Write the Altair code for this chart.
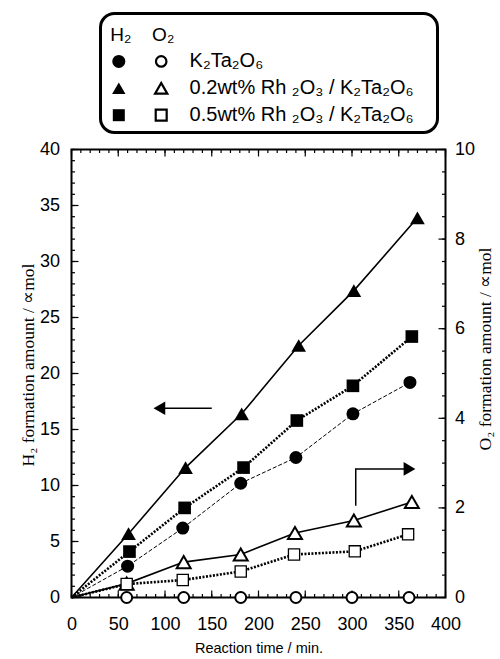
import altair as alt
import pandas as pd

# ---------------- data ----------------
series_labels = ["K₂Ta₂O₆", "0.2wt% Rh ₂O₃ / K₂Ta₂O₆", "0.5wt% Rh ₂O₃ / K₂Ta₂O₆"]
gas_labels = ["H₂", "O₂"]

# H2 formation (left axis, µmol)
h2_t_k = [60, 119, 181, 240, 301, 362]
h2_v_k = [2.8, 6.2, 10.2, 12.5, 16.4, 19.2]
h2_t_02 = [61, 122, 182, 243, 302, 370]
h2_v_02 = [5.7, 11.6, 16.4, 22.5, 27.4, 33.9]
h2_t_05 = [62, 121, 184, 241, 301, 364]
h2_v_05 = [4.1, 8.0, 11.6, 15.8, 18.9, 23.3]

# O2 formation (right axis, µmol)
o2_t_k = [59, 120, 181, 240, 300, 361]
o2_v_k = [0, 0, 0, 0, 0, 0]
o2_t_02 = [59, 120, 181, 239, 302, 364]
o2_v_02 = [0.31, 0.79, 0.96, 1.44, 1.72, 2.13]
o2_t_05 = [59, 119, 181, 238, 303, 360]
o2_v_05 = [0.30, 0.39, 0.58, 0.96, 1.03, 1.41]

# tick values
x_major = [0, 50, 100, 150, 200, 250, 300, 350, 400]
x_minor = list(range(0, 401, 10))
y_h2_major = [0, 5, 10, 15, 20, 25, 30, 35, 40]
y_h2_minor = list(range(0, 41))
y_o2_major = [0, 2, 4, 6, 8, 10]
y_o2_minor = [i * 0.5 for i in range(21)]

# annotation arrows (data coordinates)
h2_arrow_t = [150, 94]
h2_arrow_v = [16.9, 16.9]
o2_arrow_t = [304, 304, 358]
o2_arrow_v = [2.05, 2.87, 2.87]
o2_head_t = [361.5]
o2_head_v = [2.87]

# ---------------- styles ----------------
SANS = "Liberation Sans"
SERIF = "Liberation Serif"
BLACK = "black"
shapes = ["circle", "triangle-up", "square"]
filled_sizes = [169, 215, 160]
open_sizes = [120, 195, 125]
open_widths = [2, 2, 1.3]
line_styles = [
    dict(strokeWidth=1, strokeDash=[4, 2]),
    dict(strokeWidth=1.6),
    dict(strokeWidth=2.6, strokeDash=[2, 1.5]),
]

h2_t = [h2_t_k, h2_t_02, h2_t_05]
h2_v = [h2_v_k, h2_v_02, h2_v_05]
o2_t = [o2_t_k, o2_t_02, o2_t_05]
o2_v = [o2_v_k, o2_v_02, o2_v_05]

XS = alt.Scale(domain=[0, 400], nice=False)
YH2 = alt.Scale(domain=[0, 40], nice=False)
YO2 = alt.Scale(domain=[0, 10], nice=False)

x_axis = alt.Axis(values=x_major, ticks=False, domain=False, grid=False, labelFont=SANS,
                  labelFontSize=18, labelColor=BLACK, labelPadding=18, labelFlush=False,
                  labelOverlap=False, title="Reaction time / min.", titleFont=SANS,
                  titleFontSize=14.5, titleFontWeight="normal", titleColor=BLACK, titleY=51,
                  titleBaseline="middle")
y_left_axis = alt.Axis(orient="left", values=y_h2_major, ticks=False, domain=False, grid=False,
                       labelFont=SANS, labelFontSize=18, labelColor=BLACK, labelPadding=12,
                       labelFlush=False, labelOverlap=False,
                       title="H₂ formation amount / ∝mol", titleFont=SERIF, titleFontSize=17.5,
                       titleFontWeight="normal", titleColor=BLACK, titleAngle=270, titleX=-43,
                       titleY=215, titleAlign="center", titleBaseline="middle")
y_right_axis = alt.Axis(orient="right", values=y_o2_major, ticks=False, domain=False, grid=False,
                        labelFont=SANS, labelFontSize=18, labelColor=BLACK, labelPadding=9,
                        labelFlush=False, labelOverlap=False,
                        title="O₂ formation amount / ∝mol", titleFont=SERIF, titleFontSize=17.5,
                        titleFontWeight="normal", titleColor=BLACK, titleAngle=270, titleX=40,
                        titleY=199, titleAlign="center", titleBaseline="middle")

# ---------------- H2 group ----------------
xh = alt.X("t:Q", scale=XS, axis=x_axis)
yh = alt.Y("v:Q", scale=YH2, axis=y_left_axis)
h2_layers = []


def xticks(vals, at, length):
    df = pd.DataFrame({"t": vals, "v": [at] * len(vals)})
    return alt.Chart(df).mark_rule(color=BLACK, strokeWidth=1.2, y2Offset=length).encode(
        x=xh, y=yh, y2=alt.Y2("v"))


def yticks(vals, at, length, yenc, xenc):
    df = pd.DataFrame({"v": vals, "t": [at] * len(vals)})
    return alt.Chart(df).mark_rule(color=BLACK, strokeWidth=1.2, x2Offset=length).encode(
        y=yenc, x=xenc, x2=alt.X2("t"))


h2_layers.append(xticks(x_minor, 0, -3.5))
h2_layers.append(xticks(x_major, 0, -7))
h2_layers.append(xticks(x_minor, 40, 3.5))
h2_layers.append(xticks(x_major, 40, 7))
h2_layers.append(yticks(y_h2_minor, 0, 3.5, yh, xh))
h2_layers.append(yticks(y_h2_major, 0, 7, yh, xh))

for i in range(3):
    df = pd.DataFrame({"t": [0] + h2_t[i], "v": [0] + h2_v[i]})
    h2_layers.append(alt.Chart(df).mark_line(color=BLACK, **line_styles[i]).encode(x=xh, y=yh))
for i in range(3):
    df = pd.DataFrame({"t": h2_t[i], "v": h2_v[i]})
    h2_layers.append(alt.Chart(df).mark_point(shape=shapes[i], filled=True, color=BLACK,
                                              opacity=1, size=filled_sizes[i]).encode(x=xh, y=yh))
arr1 = pd.DataFrame({"t": h2_arrow_t, "v": h2_arrow_v})
h2_layers.append(alt.Chart(arr1).mark_line(color=BLACK, strokeWidth=1.5).encode(x=xh, y=yh))
h2_layers.append(alt.Chart(arr1.iloc[[1]]).mark_point(shape="triangle-left", filled=True,
                                                       color=BLACK, opacity=1, size=185)
                 .encode(x=xh, y=yh))
L1 = alt.layer(*h2_layers)

# ---------------- O2 group ----------------
xo = alt.X("t:Q", scale=XS, axis=None)
yo = alt.Y("v:Q", scale=YO2, axis=y_right_axis)
o2_layers = []
o2_layers.append(yticks(y_o2_minor, 400, -3.5, yo, xo))
o2_layers.append(yticks(y_o2_major, 400, -7, yo, xo))
for i in range(3):
    df = pd.DataFrame({"t": [0] + o2_t[i], "v": [0] + o2_v[i]})
    o2_layers.append(alt.Chart(df).mark_line(color=BLACK, **line_styles[i]).encode(x=xo, y=yo))
for i in range(3):
    df = pd.DataFrame({"t": o2_t[i], "v": o2_v[i]})
    o2_layers.append(alt.Chart(df).mark_point(shape=shapes[i], filled=True, fill="white",
                                              stroke=BLACK, strokeWidth=open_widths[i],
                                              opacity=1, size=open_sizes[i])
                     .encode(x=xo, y=yo))
arr2 = pd.DataFrame({"t": o2_arrow_t, "v": o2_arrow_v, "seq": [0, 1, 2]})
o2_layers.append(alt.Chart(arr2).mark_line(color=BLACK, strokeWidth=1.5)
                 .encode(x=xo, y=yo, order="seq:O"))
head2 = pd.DataFrame({"t": o2_head_t, "v": o2_head_v})
o2_layers.append(alt.Chart(head2).mark_point(shape="triangle-right", filled=True, color=BLACK,
                                             opacity=1, size=185).encode(x=xo, y=yo))
L2 = alt.layer(*o2_layers)

main = alt.layer(L1, L2).resolve_scale(x="independent", y="independent").properties(
    width=374, height=448, view=alt.ViewBackground(stroke=BLACK, strokeWidth=2))

# ---------------- legend ----------------
legend_cols = gas_labels + ["label"]
legend_rows = ["hdr"] + series_labels
lx = alt.X("col:N", scale=alt.Scale(type="point", domain=legend_cols, range=[18.3, 103.1],
                                    padding=0), axis=None)
ly = alt.Y("row:N", scale=alt.Scale(type="point", domain=legend_rows, range=[21, 101.7],
                                    padding=0), axis=None)

leg_layers = []
hdr = pd.DataFrame({"col": gas_labels, "row": ["hdr", "hdr"], "txt": gas_labels})
leg_layers.append(alt.Chart(hdr).mark_text(font=SANS, fontSize=19, color=BLACK, align="center",
                                           baseline="middle", dx=2)
                  .encode(x=lx, y=ly, text="txt:N"))
for i in range(3):
    d1 = pd.DataFrame({"col": [gas_labels[0]], "row": [series_labels[i]]})
    leg_layers.append(alt.Chart(d1).mark_point(shape=shapes[i], filled=True, color=BLACK,
                                               opacity=1, size=[169, 180, 144][i])
                      .encode(x=lx, y=ly))
    d2 = pd.DataFrame({"col": [gas_labels[1]], "row": [series_labels[i]]})
    leg_layers.append(alt.Chart(d2).mark_point(shape=shapes[i], filled=True, fill="white",
                                               stroke=BLACK, strokeWidth=2.2, opacity=1,
                                               size=[110, 150, 120][i])
                      .encode(x=lx, y=ly))
lab = pd.DataFrame({"col": ["label"] * 3, "row": series_labels, "txt": series_labels})
leg_layers.append(alt.Chart(lab).mark_text(font=SANS, fontSize=20, color=BLACK, align="left",
                                           baseline="middle", dx=-14)
                  .encode(x=lx, y=ly, text="txt:N"))
legend = alt.layer(*leg_layers).properties(
    width=337, height=119,
    view=alt.ViewBackground(stroke=BLACK, strokeWidth=3, cornerRadius=14, fill="white"))

spacer = alt.Chart(pd.DataFrame({"s": [0]})).mark_point(opacity=0, size=1).encode(
    x=alt.value(1), y=alt.value(1)).properties(
    width=26, height=119, view=alt.ViewBackground(stroke="transparent"))

top = alt.hconcat(spacer, legend, spacing=0)

chart = alt.vconcat(top, main, spacing=5).properties(
    padding={"left": 18.5, "top": 11.5, "right": 0, "bottom": 0},
    background="white",
).configure_view(stroke="transparent")

chart.save("out.html", embed_options={"renderer": "svg", "actions": False})
